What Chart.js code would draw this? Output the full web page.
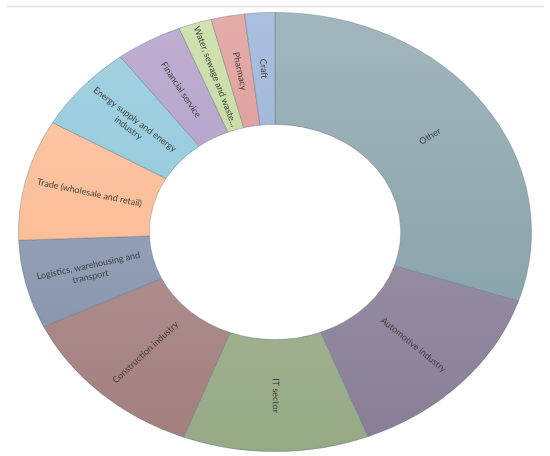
<!DOCTYPE html>
<html>
<head>
<meta charset="utf-8">
<script src="https://cdn.jsdelivr.net/npm/chart.js@4.4.1/dist/chart.umd.min.js"></script>
<style>
html,body{margin:0;padding:0;background:#fff;}
#wrap{position:relative;width:550px;height:456px;}
</style>
</head>
<body>
<div id="wrap"><canvas id="c" width="550" height="456"></canvas></div>
<script>
// Categories (clockwise from 12 o'clock)
const categories = [
  "Other",
  "Automotive industry",
  "IT sector",
  "Construction industry",
  ["Logistics, warehousing and", "transport"],
  "Trade (wholesale and retail)",
  ["Energy supply and energy", "industry"],
  "Financial service",
  "Water, sewage and waste...",
  "Pharmacy",
  "Craft"
];
// Share of companies (%)
const shares = [30.1, 14.0, 11.7, 12.1, 6.5, 8.9, 6.4, 4.2, 2.1, 2.1, 1.9];
// Gradient colours (top, bottom)
const topColors = ["#a2b6bd","#a7a0b2","#b2c2a2","#bca09e","#a8b2c6","#fdcaa8","#a4d3e2","#bfafd2","#d0e2b0","#e5acaa","#abc0de"];
const bottomColors = ["#7d9ba4","#887d95","#96a985","#a27e7d","#7d8ca6","#f9b389","#86c1d6","#a593bd","#b5d194","#d78886","#8ca6d3"];

const SX = 257 / 220; // horizontal stretch of the ring (ellipse)

function sliceFill(ctx) {
  const i = ctx.dataIndex;
  const chart = ctx.chart;
  const area = chart.chartArea;
  if (!area || i === undefined) return topColors[i || 0];
  const g = chart.ctx.createLinearGradient(0, area.top, 0, area.bottom);
  g.addColorStop(0, topColors[i]);
  g.addColorStop(1, bottomColors[i]);
  return g;
}

const ellipsePlugin = {
  id: 'ellipse',
  beforeDraw(chart) {
    const c = chart.ctx;
    c.save();
    c.strokeStyle = '#e3e3e3';
    c.lineWidth = 1.5;
    c.beginPath();
    c.moveTo(7, 6.5);
    c.lineTo(544, 6.5);
    c.stroke();
    c.restore();
  },
  beforeDatasetsDraw(chart) {
    const arc = chart.getDatasetMeta(0).data[0];
    const c = chart.ctx;
    c.save();
    c.translate(arc.x, 0);
    c.scale(SX, 1);
    c.translate(-arc.x, 0);
  },
  afterDatasetsDraw(chart) {
    chart.ctx.restore();
  },
  afterDraw(chart) {
    const c = chart.ctx;
    const meta = chart.getDatasetMeta(0);
    c.save();
    c.fillStyle = '#404040';
    c.font = '9px Lato, "Open Sans", sans-serif';
    c.textAlign = 'center';
    c.textBaseline = 'middle';
    meta.data.forEach((arc, i) => {
      const t = (arc.startAngle + arc.endAngle) / 2;
      const r = (arc.innerRadius + arc.outerRadius) / 2;
      const x = arc.x + Math.cos(t) * r * SX;
      const y = arc.y + Math.sin(t) * r;
      let rot = Math.atan2(Math.sin(t), Math.cos(t) * SX);
      while (rot > Math.PI / 2) rot -= Math.PI;
      while (rot <= -Math.PI / 2) rot += Math.PI;
      const lines = Array.isArray(categories[i]) ? categories[i] : [categories[i]];
      c.save();
      c.translate(x, y);
      c.rotate(rot);
      const lh = 11;
      lines.forEach((ln, k) => {
        c.fillText(ln, 0, (k - (lines.length - 1) / 2) * lh);
      });
      c.restore();
    });
    c.restore();
  }
};

new Chart(document.getElementById('c'), {
  type: 'doughnut',
  data: {
    labels: categories.map(l => Array.isArray(l) ? l.join(' ') : l),
    datasets: [{
      data: shares,
      backgroundColor: sliceFill,
      borderColor: 'rgba(90,110,130,0.45)',
      borderWidth: 0.8
    }]
  },
  options: {
    responsive: false,
    animation: false,
    cutout: '49%',
    layout: { padding: { top: 12, bottom: 4, left: 0, right: 0 } },
    plugins: {
      legend: { display: false },
      tooltip: { enabled: false }
    },
    events: []
  },
  plugins: [ellipsePlugin]
});
</script>
</body>
</html>
